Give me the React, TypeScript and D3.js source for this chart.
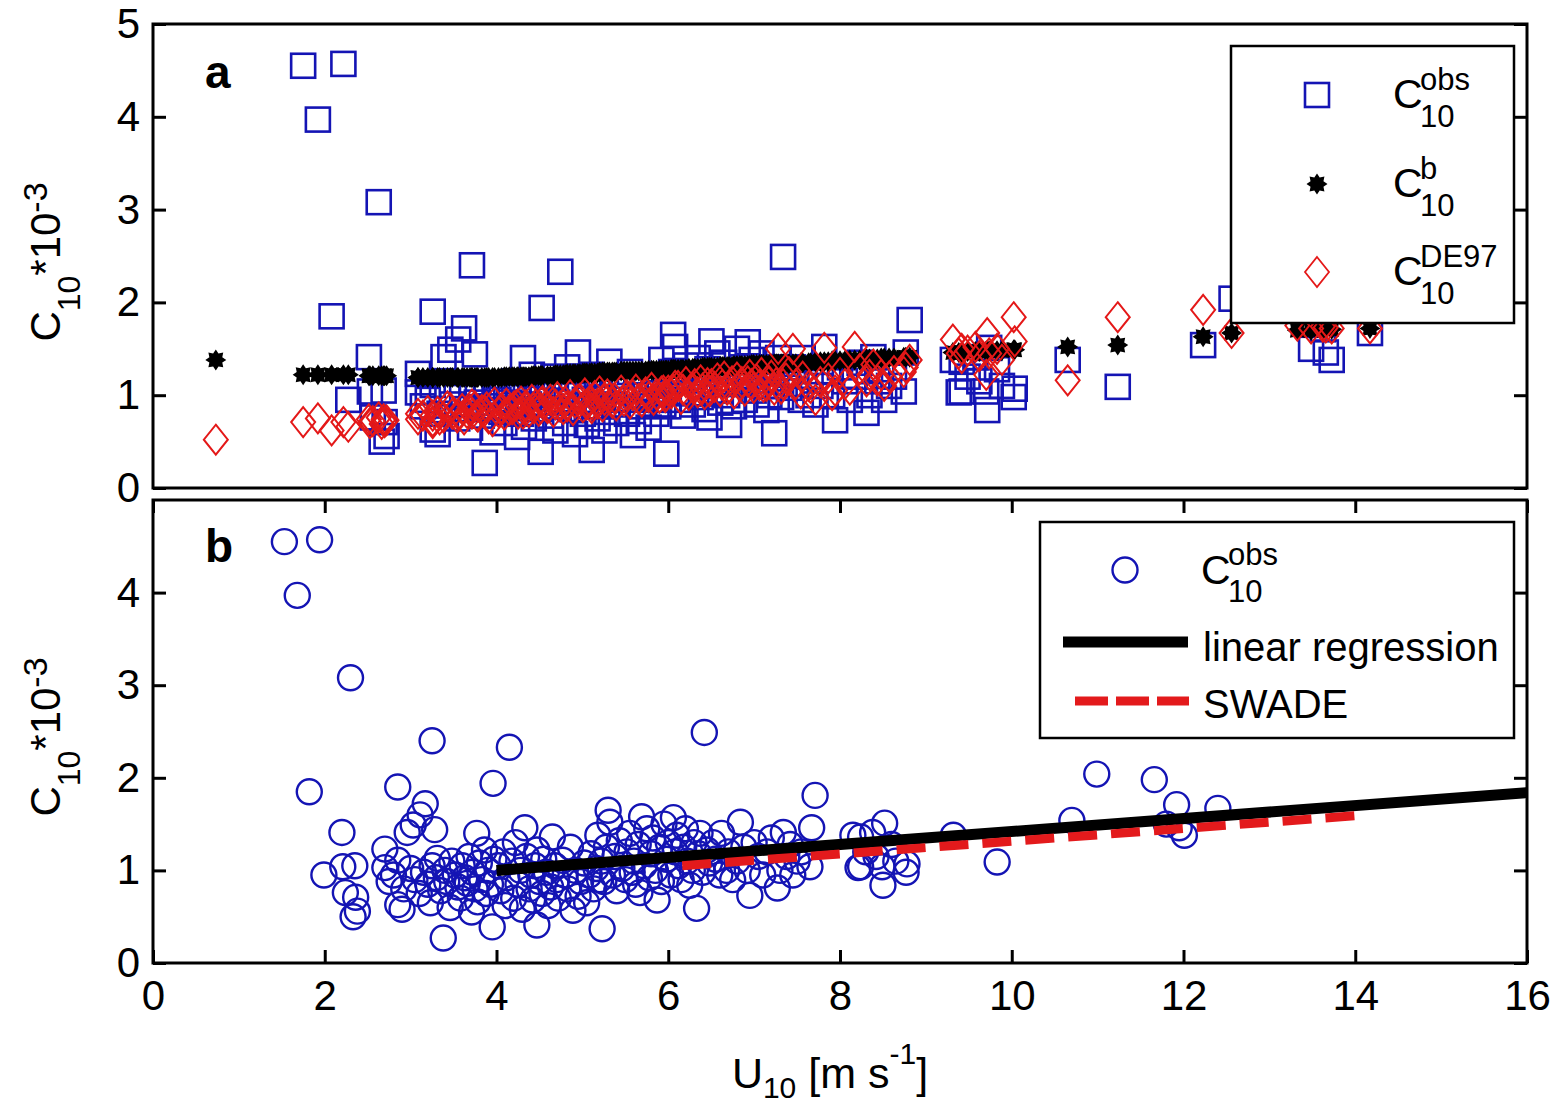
import React from "react";
import * as d3 from "d3";

// wind speed U10 [m/s] per run; the C10 arrays below are index-aligned with it
const windSpeed = [
  0.64,
  1.53, 1.68, 1.82, 1.94, 1.99, 2.20, 2.21, 2.24, 2.30, 2.33, 2.35, 2.36, 2.38,
  2.70, 2.70, 2.85, 2.85, 2.85, 2.90, 2.96, 3.03, 3.11, 3.17, 3.23, 3.25, 3.28, 3.31, 3.38, 3.46, 3.66, 3.71, 3.77, 3.95, 3.96,
  2.75, 2.80, 2.92, 3.00, 3.05, 3.10, 3.15, 3.20, 3.25, 3.30, 3.35, 3.40, 3.42, 3.48, 3.52, 3.55, 3.58, 3.60, 3.63, 3.68, 3.72, 3.75, 3.78, 3.80, 3.83, 3.86, 3.88, 3.90, 3.93, 3.97,
  4.15, 4.33, 4.47, 4.65, 4.89, 5.18,
  4.02, 4.05, 4.08, 4.10, 4.12, 4.18, 4.20, 4.22, 4.25, 4.28, 4.30, 4.35, 4.38, 4.40, 4.42, 4.45, 4.47, 4.50, 4.53, 4.55, 4.58, 4.60, 4.63, 4.68, 4.70, 4.72, 4.77, 4.80, 4.83, 4.86, 4.92, 4.95, 4.98, 5.02, 5.05, 5.08, 5.10, 5.13, 5.16, 5.20,
  5.23, 5.30, 5.32, 5.67, 5.69, 5.87, 6.06, 6.25, 6.33, 6.37, 6.42,
  5.22, 5.25, 5.28, 5.35, 5.38, 5.40, 5.43, 5.46, 5.50, 5.52, 5.55, 5.58, 5.60, 5.62, 5.65, 5.72, 5.75, 5.78, 5.80, 5.82, 5.85, 5.90, 5.92, 5.95, 5.98, 6.00, 6.03, 6.08, 6.10, 6.12, 6.15, 6.18, 6.20, 6.22, 6.28, 6.30, 6.35, 6.40, 6.45, 6.48,
  6.68, 6.84, 6.95, 7.27, 7.30, 7.34, 7.65, 7.67, 7.71,
  6.52, 6.55, 6.60, 6.62, 6.70, 6.75, 6.80, 6.88, 6.92, 7.00, 7.05, 7.10, 7.15, 7.20, 7.38, 7.42, 7.45, 7.50, 7.55,
  8.15, 8.21, 8.24, 8.24, 8.30, 8.38, 8.42, 8.49, 8.50, 8.52, 8.60, 8.65, 8.77, 8.78,
  9.32, 9.83,
  10.70, 10.99, 11.66, 11.80, 11.92, 11.95, 12.01, 12.40,
];

// observed C10 (x1e-3), null where the run has no observation
const cdObs = [
  null,
  4.55, 3.97, 1.85, 4.57, 0.95, 1.41, 1.04, 0.76, 3.08, 0.50, 1.05, 0.71, 0.56,
  1.23, 1.03, 1.90, 1.11, 0.63, 0.58, 1.41, 1.49, 1.60, 1.72, 0.65, 2.40, 1.44, 1.13, 0.27, 0.60, 0.86, 0.55, 1.40, 0.39, 1.94,
  0.88, 0.95, 0.80, 1.02, 0.90, 0.75, 0.98, 0.85, 1.05, 0.92, 0.78, 1.00, 0.88, 1.10, 0.95, 0.82, 0.70, 1.05, 0.92, 1.15, 0.98, 0.80, 0.66, 1.08, 0.90, 1.22, 0.75, 1.00, 0.85, 1.12,
  2.33, 1.46, 0.41, 1.36, 0.57, 1.38,
  1.05, 0.78, 1.20, 0.62, 0.92, 1.10, 0.70, 1.30, 0.85, 1.00, 0.58, 1.15, 0.80, 0.95, 0.68, 1.05, 1.22, 0.88, 0.75, 1.12, 0.98, 0.62, 0.82, 1.05, 0.90, 0.70, 1.11, 0.95, 0.80, 1.25, 1.00, 0.72, 0.88, 1.08, 0.65, 0.95, 1.18, 0.80, 1.02, 0.90,
  0.37, 1.65, 1.52, 0.76, 1.58, 0.68, 1.57, 0.84, 0.59, 1.40, 2.49,
  1.10, 0.88, 1.25, 0.95, 1.15, 0.78, 1.32, 1.02, 0.90, 1.20, 1.40, 0.98, 1.10, 0.85, 1.28, 1.05, 1.45, 0.92, 1.18, 1.35, 1.00, 1.25, 0.88, 1.50, 1.12, 1.30, 0.95, 1.20, 1.38, 1.05, 0.90, 1.25, 1.45, 1.10, 1.00, 1.30, 1.18, 0.98, 1.22, 1.08,
  1.00, 1.52, 0.73, 0.81, 1.00, 1.41, 1.04, 1.46, 1.81,
  1.30, 1.12, 0.95, 1.40, 1.20, 0.90, 1.10, 1.25, 1.00, 1.30, 1.15, 0.95, 1.20, 1.35, 1.15, 1.28, 0.95, 1.10, 1.20,
  1.38, 1.03, 1.36, 1.04, 1.20, 1.41, 1.15, 1.04, 0.84, 1.51, 1.28, 1.10, 0.98, 1.07,
  1.38, 1.09,
  1.54, 2.04, 1.98, 1.50, 1.71, 1.46, 1.38, 1.67,
];

// bulk formula C10^b
const cdBulk = [
  1.38,
  1.22, 1.22, 1.22, 1.22, 1.22, 1.21, 1.21, 1.21, 1.21, 1.21, 1.21, 1.21, 1.21,
  1.19, 1.19, 1.19, 1.19, 1.19, 1.19, 1.19, 1.19, 1.19, 1.19, 1.19, 1.19, 1.19, 1.19, 1.19, 1.19, 1.20, 1.20, 1.20, 1.21, 1.21,
  1.19, 1.19, 1.19, 1.19, 1.19, 1.19, 1.19, 1.19, 1.19, 1.19, 1.19, 1.19, 1.19, 1.19, 1.19, 1.19, 1.20, 1.20, 1.20, 1.20, 1.20, 1.20, 1.20, 1.20, 1.20, 1.21, 1.21, 1.21, 1.21, 1.21,
  1.22, 1.23, 1.24, 1.25, 1.26, 1.27,
  1.21, 1.21, 1.21, 1.22, 1.22, 1.22, 1.22, 1.23, 1.23, 1.23, 1.23, 1.23, 1.24, 1.24, 1.24, 1.24, 1.24, 1.24, 1.24, 1.25, 1.25, 1.25, 1.25, 1.25, 1.25, 1.25, 1.26, 1.26, 1.26, 1.26, 1.26, 1.26, 1.26, 1.26, 1.27, 1.27, 1.27, 1.27, 1.27, 1.27,
  1.27, 1.28, 1.28, 1.30, 1.30, 1.31, 1.32, 1.33, 1.34, 1.34, 1.34,
  1.27, 1.27, 1.28, 1.28, 1.28, 1.28, 1.28, 1.29, 1.29, 1.29, 1.29, 1.29, 1.30, 1.30, 1.30, 1.30, 1.30, 1.31, 1.31, 1.31, 1.31, 1.31, 1.32, 1.32, 1.32, 1.32, 1.32, 1.32, 1.33, 1.33, 1.33, 1.33, 1.33, 1.33, 1.33, 1.34, 1.34, 1.34, 1.34, 1.34,
  1.35, 1.36, 1.37, 1.39, 1.39, 1.39, 1.41, 1.41, 1.41,
  1.34, 1.34, 1.35, 1.35, 1.35, 1.36, 1.36, 1.36, 1.37, 1.37, 1.37, 1.38, 1.38, 1.38, 1.39, 1.40, 1.40, 1.40, 1.40,
  1.46, 1.46, 1.46, 1.46, 1.47, 1.47, 1.47, 1.48, 1.48, 1.48, 1.48, 1.48, 1.49, 1.49,
  1.52, 1.54,
  1.63, 1.67, 1.70, 1.70, 1.71, 1.71, 1.71, 1.72,
];

// wave-age parameterisation C10^DE97
const cdDE97 = [
  0.52,
  0.71, 0.75, 0.62, 0.71, 0.66, 0.74, 0.70, 0.72, 0.76, 0.69, 0.74, 0.71, 0.73,
  0.74, 0.80, 0.72, 0.78, 0.70, 0.82, 0.76, 0.86, 0.79, 0.74, 0.84, 0.80, 0.88, 0.77, 0.83, 0.72, 0.85, 0.90, 0.80, 0.86, 0.92,
  0.78, 0.83, 0.74, 0.88, 0.80, 0.76, 0.85, 0.81, 0.90, 0.78, 0.84, 0.87, 0.75, 0.92, 0.82, 0.86, 0.79, 0.91, 0.84, 0.88, 0.80, 0.93, 0.85, 0.89, 0.82, 0.95, 0.86, 0.90, 0.83, 0.94,
  0.88, 0.95, 0.90, 0.97, 1.00, 1.04,
  0.86, 0.95, 0.82, 0.90, 0.98, 0.85, 0.93, 0.88, 1.00, 0.84, 0.92, 0.96, 0.87, 1.02, 0.90, 0.94, 0.86, 0.99, 0.91, 1.04, 0.88, 0.95, 1.01, 0.92, 0.97, 0.89, 1.05, 0.94, 1.00, 0.91, 1.06, 0.96, 0.93, 1.03, 0.98, 1.08, 0.95, 1.01, 0.97, 1.05,
  1.00, 1.06, 1.10, 1.04, 1.12, 1.08, 1.15, 1.10, 1.06, 1.50, 1.12,
  0.98, 1.05, 1.02, 1.10, 0.96, 1.06, 1.14, 1.00, 1.08, 1.12, 1.03, 1.16, 1.07, 1.01, 1.13, 1.09, 1.18, 1.04, 1.11, 1.20, 1.06, 1.15, 1.02, 1.19, 1.10, 1.14, 1.05, 1.22, 1.12, 1.08, 1.17, 1.11, 1.24, 1.09, 1.15, 1.21, 1.13, 1.07, 1.18, 1.25,
  1.10, 1.51, 1.05, 1.15, 1.22, 1.33, 1.25, 1.30, 1.38,
  1.50, 1.12, 1.02, 1.20, 1.08, 0.95, 1.14, 1.18, 1.00, 1.24, 1.12, 1.06, 1.52, 1.28, 1.16, 1.22, 1.10, 1.20, 1.26,
  1.60, 1.45, 1.50, 1.40, 1.48, 1.52, 1.42, 1.22, 1.67, 1.45, 1.50, 1.38, 1.84, 1.58,
  1.16, 1.84,
  1.92, 1.67, 1.75, 1.72, 1.74, 1.73, 1.72, 1.72,
];

const regressionWind = [4, 16];
const regressionCd = [1.0, 1.84];
const swadeWind = [6, 14];
const swadeCd = [1.04, 1.59];

const yTicksA = [0, 1, 2, 3, 4, 5];
const yTicksB = [0, 1, 2, 3, 4];
const xTicksB = [0, 2, 4, 6, 8, 10, 12, 14, 16];

const FONT = "'Liberation Sans', Arial, Helvetica, sans-serif";
const BLUE = "#1414b4";
const RED = "#e41818";
const LINE_RED = "#e31a1c";

function starPath(ro: number, ri: number) {
  const pts: [number, number][] = [];
  for (let i = 0; i < 16; i++) {
    const a = (i * Math.PI) / 8 - Math.PI / 2;
    const r = i % 2 ? ri : ro;
    pts.push([r * Math.cos(a), r * Math.sin(a)]);
  }
  return "M" + pts.map((p) => p.join(",")).join("L") + "Z";
}
const STAR = starPath(10.5, 7);
const DIAMOND = "M0,-15L12,0L0,15L-12,0Z";

export default function App() {
  const ref = React.useRef<SVGSVGElement>(null);

  React.useEffect(() => {
    const left = 153;
    const right = 1527;
    const topA = 24, bottomA = 488;
    const topB = 500, bottomB = 963;

    const xA = d3.scaleLinear().domain([0, 14]).range([left, right]);
    const yA = d3.scaleLinear().domain([0, 5]).range([bottomA, topA]);
    const xB = d3.scaleLinear().domain([0, 16]).range([left, right]);
    const yB = d3.scaleLinear().domain([0, 5]).range([bottomB, topB]);

    const rows = windSpeed.map((u, i) => ({
      u,
      obs: cdObs[i],
      bulk: cdBulk[i],
      de97: cdDE97[i],
    }));
    const withObs = rows.filter((d) => d.obs != null);

    const svg = d3.select(ref.current);
    svg.selectAll("*").remove();
    svg.append("rect").attr("width", 1562).attr("height", 1104).attr("fill", "#fff");

    const styleAxis = (g: any, labels: boolean) => {
      g.select(".domain").remove();
      g.selectAll("line").attr("stroke", "#000").attr("stroke-width", 3);
      if (labels) {
        g.selectAll("text")
          .attr("font-size", 42)
          .attr("font-family", FONT)
          .attr("fill", "#000");
      }
      g.attr("font-family", FONT);
    };

    // ---------- panel a ----------
    const pa = svg.append("g");
    pa.append("g")
      .selectAll("rect")
      .data(withObs)
      .join("rect")
      .attr("x", (d) => xA(d.u) - 12)
      .attr("y", (d) => yA(d.obs as number) - 12)
      .attr("width", 24)
      .attr("height", 24)
      .attr("fill", "none")
      .attr("stroke", BLUE)
      .attr("stroke-width", 2.6);

    pa.append("g")
      .selectAll("path")
      .data(rows)
      .join("path")
      .attr("d", STAR)
      .attr("transform", (d) => `translate(${xA(d.u)},${yA(d.bulk)})`)
      .attr("fill", "#000");

    pa.append("g")
      .selectAll("path")
      .data(rows)
      .join("path")
      .attr("d", DIAMOND)
      .attr("transform", (d) => `translate(${xA(d.u)},${yA(d.de97)})`)
      .attr("fill", "none")
      .attr("stroke", RED)
      .attr("stroke-width", 2);

    pa.append("rect")
      .attr("x", left)
      .attr("y", topA)
      .attr("width", right - left)
      .attr("height", bottomA - topA)
      .attr("fill", "none")
      .attr("stroke", "#000")
      .attr("stroke-width", 3);

    pa.append("g")
      .attr("transform", `translate(${left},0)`)
      .call(d3.axisLeft(yA).tickValues(yTicksA).tickSize(-13).tickPadding(13).tickFormat(d3.format("d")))
      .call((g) => styleAxis(g, true));
    pa.append("g")
      .attr("transform", `translate(${right},0)`)
      .call(d3.axisRight(yA).tickValues(yTicksA).tickSize(-13).tickFormat(() => ""))
      .call((g) => styleAxis(g, false));

    pa.append("text")
      .attr("x", 205)
      .attr("y", 88)
      .attr("font-size", 46)
      .attr("font-weight", "bold")
      .attr("font-family", FONT)
      .text("a");

    // legend a
    const la = pa.append("g");
    la.append("rect")
      .attr("x", 1231)
      .attr("y", 46)
      .attr("width", 283)
      .attr("height", 277)
      .attr("fill", "#fff")
      .attr("stroke", "#000")
      .attr("stroke-width", 2.5);
    la.append("rect")
      .attr("x", 1317 - 12)
      .attr("y", 95 - 12)
      .attr("width", 24)
      .attr("height", 24)
      .attr("fill", "none")
      .attr("stroke", BLUE)
      .attr("stroke-width", 2.6);
    la.append("path").attr("d", STAR).attr("transform", "translate(1317,184)").attr("fill", "#000");
    la.append("path")
      .attr("d", DIAMOND)
      .attr("transform", "translate(1317,272)")
      .attr("fill", "none")
      .attr("stroke", RED)
      .attr("stroke-width", 1.8);
    const entriesA = [
      { base: 108, sup: "obs" },
      { base: 197, sup: "b" },
      { base: 285, sup: "DE97" },
    ];
    entriesA.forEach((e) => {
      la.append("text").attr("x", 1393).attr("y", e.base).attr("font-size", 41).attr("font-family", FONT).text("C");
      la.append("text").attr("x", 1420).attr("y", e.base - 18).attr("font-size", 31).attr("font-family", FONT).text(e.sup);
      la.append("text").attr("x", 1420).attr("y", e.base + 19).attr("font-size", 31).attr("font-family", FONT).text("10");
    });

    // ---------- panel b ----------
    const pb = svg.append("g");
    pb.append("g")
      .selectAll("circle")
      .data(withObs)
      .join("circle")
      .attr("cx", (d) => xB(d.u))
      .attr("cy", (d) => yB(d.obs as number))
      .attr("r", 12.5)
      .attr("fill", "none")
      .attr("stroke", BLUE)
      .attr("stroke-width", 2.4);

    const regPts = regressionWind.map((u, i) => [xB(u), yB(regressionCd[i])] as [number, number]);
    const swPts = swadeWind.map((u, i) => [xB(u), yB(swadeCd[i])] as [number, number]);
    pb.append("path")
      .attr("d", d3.line()(regPts))
      .attr("stroke", "#000")
      .attr("stroke-width", 11)
      .attr("fill", "none");
    pb.append("path")
      .attr("d", d3.line()(swPts))
      .attr("stroke", LINE_RED)
      .attr("stroke-width", 9)
      .attr("stroke-dasharray", "29 14")
      .attr("stroke-dashoffset", 29)
      .attr("fill", "none");

    pb.append("rect")
      .attr("x", left)
      .attr("y", topB)
      .attr("width", right - left)
      .attr("height", bottomB - topB)
      .attr("fill", "none")
      .attr("stroke", "#000")
      .attr("stroke-width", 3);

    pb.append("g")
      .attr("transform", `translate(${left},0)`)
      .call(d3.axisLeft(yB).tickValues(yTicksB).tickSize(-13).tickPadding(13).tickFormat(d3.format("d")))
      .call((g) => styleAxis(g, true));
    pb.append("g")
      .attr("transform", `translate(${right},0)`)
      .call(d3.axisRight(yB).tickValues(yTicksB).tickSize(-13).tickFormat(() => ""))
      .call((g) => styleAxis(g, false));
    pb.append("g")
      .attr("transform", `translate(0,${bottomB})`)
      .call(d3.axisBottom(xB).tickValues(xTicksB).tickSize(-13).tickPadding(17).tickFormat(d3.format("d")))
      .call((g) => styleAxis(g, true));
    pb.append("g")
      .attr("transform", `translate(0,${topB})`)
      .call(d3.axisTop(xB).tickValues(xTicksB).tickSize(-13).tickFormat(() => ""))
      .call((g) => styleAxis(g, false));

    pb.append("text")
      .attr("x", 205)
      .attr("y", 562)
      .attr("font-size", 46)
      .attr("font-weight", "bold")
      .attr("font-family", FONT)
      .text("b");

    // legend b
    const lb = pb.append("g");
    lb.append("rect")
      .attr("x", 1040)
      .attr("y", 522)
      .attr("width", 474)
      .attr("height", 216)
      .attr("fill", "#fff")
      .attr("stroke", "#000")
      .attr("stroke-width", 2.5);
    lb.append("circle")
      .attr("cx", 1125)
      .attr("cy", 570)
      .attr("r", 12.5)
      .attr("fill", "none")
      .attr("stroke", BLUE)
      .attr("stroke-width", 2.4);
    lb.append("text").attr("x", 1201).attr("y", 584).attr("font-size", 41).attr("font-family", FONT).text("C");
    lb.append("text").attr("x", 1228).attr("y", 565).attr("font-size", 31).attr("font-family", FONT).text("obs");
    lb.append("text").attr("x", 1228).attr("y", 602).attr("font-size", 31).attr("font-family", FONT).text("10");
    lb.append("line")
      .attr("x1", 1063)
      .attr("x2", 1188)
      .attr("y1", 642)
      .attr("y2", 642)
      .attr("stroke", "#000")
      .attr("stroke-width", 11);
    lb.append("text").attr("x", 1203).attr("y", 661).attr("font-size", 40).attr("font-family", FONT).text("linear regression");
    lb.append("line")
      .attr("x1", 1075)
      .attr("x2", 1189)
      .attr("y1", 701)
      .attr("y2", 701)
      .attr("stroke", LINE_RED)
      .attr("stroke-width", 9)
      .attr("stroke-dasharray", "33 8");
    lb.append("text").attr("x", 1203).attr("y", 718).attr("font-size", 40).attr("font-family", FONT).text("SWADE");

    // ---------- axis titles ----------
    const yTitle = (cy: number) => {
      const t = svg
        .append("text")
        .attr("transform", `translate(60,${cy}) rotate(-90)`)
        .attr("text-anchor", "middle")
        .attr("font-size", 42)
        .attr("font-family", FONT);
      t.append("tspan").text("C");
      t.append("tspan").attr("font-size", 32).attr("dy", 20).text("10");
      t.append("tspan").attr("dy", -20).text("*10");
      t.append("tspan").attr("font-size", 34).attr("dy", -13).text("-3");
    };
    yTitle(262);
    yTitle(737);

    const xt = svg
      .append("text")
      .attr("x", 830)
      .attr("y", 1088)
      .attr("text-anchor", "middle")
      .attr("font-size", 43)
      .attr("font-family", FONT);
    xt.append("tspan").text("U");
    xt.append("tspan").attr("font-size", 30).attr("dy", 10).text("10");
    xt.append("tspan").attr("dy", -10).text(" [m s");
    xt.append("tspan").attr("font-size", 30).attr("dy", -24).text("-1");
    xt.append("tspan").attr("dy", 24).text("]");

    return () => {
      svg.selectAll("*").remove();
    };
  }, []);

  return (
    <svg
      ref={ref}
      width={1562}
      height={1104}
      style={{ position: "absolute", left: 0, top: 0 }}
    ></svg>
  );
}
